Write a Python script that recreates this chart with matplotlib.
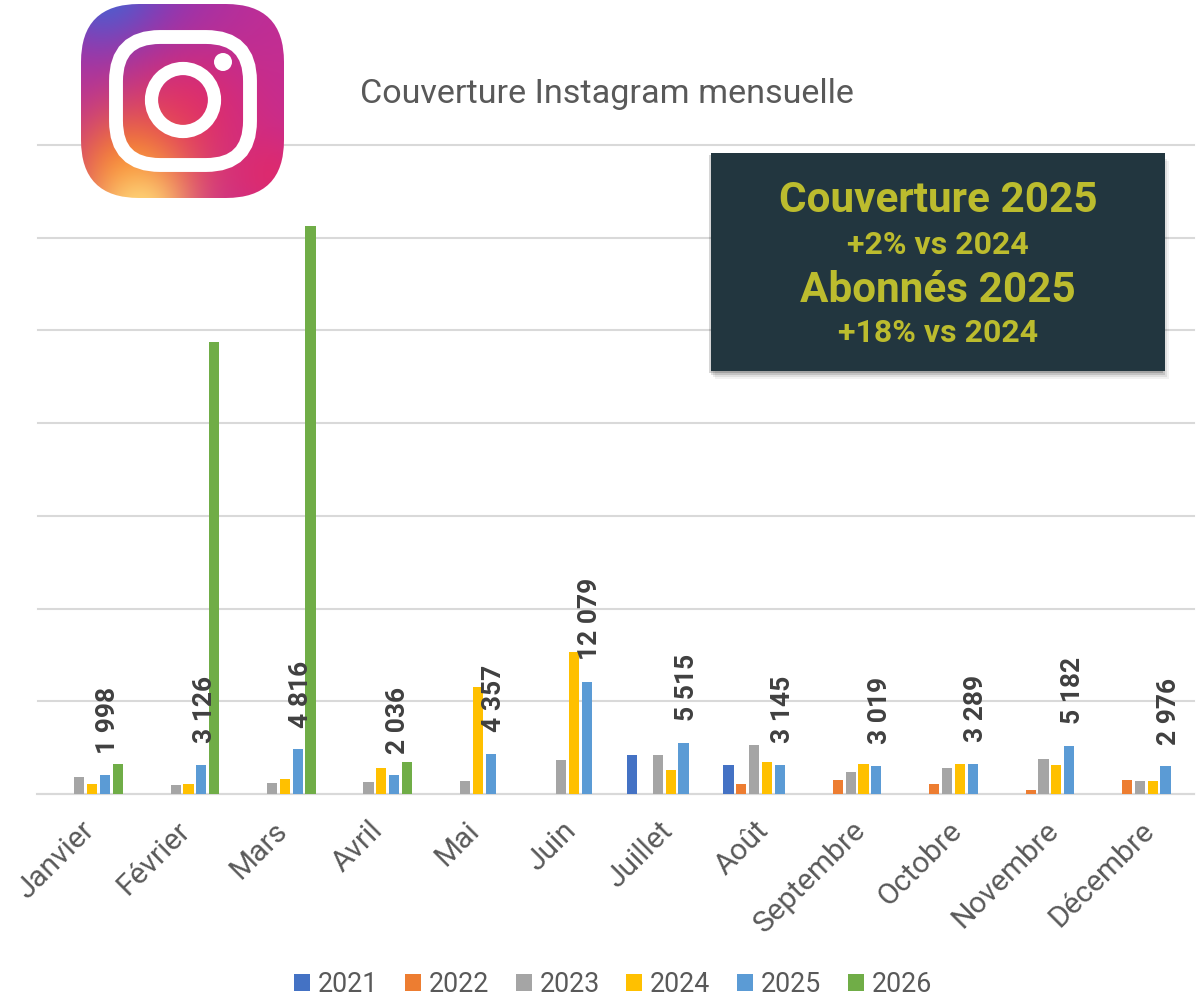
#!/usr/bin/env python3
# Couverture Instagram mensuelle: grouped bars per month, 2021-2026.
import numpy as np
import matplotlib
matplotlib.use('Agg')
import matplotlib.pyplot as plt
from matplotlib.patches import Rectangle, FancyBboxPatch, Circle
from matplotlib.transforms import ScaledTranslation

W, H = 1199, 997

MONTHS = ['Janvier', 'Février', 'Mars', 'Avril', 'Mai', 'Juin', 'Juillet',
          'Août', 'Septembre', 'Octobre', 'Novembre', 'Décembre']
YEARS = ['2021', '2022', '2023', '2024', '2025', '2026']
COLORS = ['#4472c4', '#ed7d31', '#a5a5a5', '#ffc000', '#5b9bd5', '#70ad47']

V2021 = [0, 0, 0, 20, 0, 0, 4210, 3130, 40, 30, 30, 0]
V2022 = [20, 0, 20, 30, 30, 30, 30, 1115, 1480, 1040, 430, 1550]
V2023 = [1800, 1010, 1220, 1260, 1400, 3670, 4210, 5250, 2340, 2840, 3780, 1400]
V2024 = [1115, 1115, 1580, 2800, 11500, 15300, 2630, 3420, 3200, 3280, 3130, 1400]
V2025 = [1998, 3126, 4816, 2036, 4357, 12079, 5515, 3145, 3019, 3289, 5182, 2976]
V2026 = [3240, 48800, 61300, 3450, 0, 0, 0, 0, 0, 0, 0, 0]
SERIES = [V2021, V2022, V2023, V2024, V2025, V2026]

LABELS = ['1 998', '3 126', '4 816', '2 036', '4 357', '12 079',
          '5 515', '3 145', '3 019', '3 289', '5 182', '2 976']

plt.rcParams['font.family'] = ['Roboto', 'DejaVu Sans']
GREY = '#595959'


def fx(px):
    return px / W


def fy(py):
    return 1 - py / H


fig = plt.figure(figsize=(W / 100, H / 100), dpi=100, facecolor='white')

# Main axes, placed in pixels: grid runs 37-1195, baseline at 794, top line at 145
ax = fig.add_axes([fx(37.5), fy(794), (1194.5 - 37.5) / W, (794 - 145) / H])
ax.set_xlim(-0.5, 11.5)
ax.set_ylim(0, 70000)

step = 0.133
width = 0.106
x = np.arange(len(MONTHS))
for i, (year, vals, col) in enumerate(zip(YEARS, SERIES, COLORS)):
    ax.bar(x + (i - 2.5) * step, vals, width=width, color=col, label=year, zorder=3)

for xi, val, lab in zip(x, V2025, LABELS):
    ax.annotate(lab, (xi + 1.5 * step, val), xytext=(2.5, 15.5), textcoords='offset points',
                rotation=90, ha='center', va='bottom', fontsize=19, fontweight='bold',
                color='#404040', zorder=5)

ax.set_yticks(np.arange(0, 70001, 10000))
ax.set_yticklabels([])
ax.yaxis.grid(True, color='#d9d9d9', linewidth=1.5, zorder=0, clip_on=False)
ax.set_axisbelow(True)
ax.tick_params(length=0)
for s in ['top', 'right', 'left']:
    ax.spines[s].set_visible(False)
ax.spines['bottom'].set_color('#d9d9d9')
ax.spines['bottom'].set_linewidth(1.5)

ax.set_xticks(x)
ax.set_xticklabels(MONTHS, rotation=45, ha='right', rotation_mode='anchor',
                   fontsize=21.5, color=GREY)
ax.tick_params(axis='x', pad=16)
# month labels sit a few pixels left of the group centre
shift = ScaledTranslation(-6 / 100, 0, fig.dpi_scale_trans)
for lab in ax.get_xticklabels():
    lab.set_transform(lab.get_transform() + shift)

fig.text(fx(360), fy(94), 'Couverture Instagram mensuelle', fontsize=24.6, color=GREY,
         ha='left', va='center')

leg = fig.legend(*ax.get_legend_handles_labels(), loc='center', ncol=6,
                 bbox_to_anchor=(fx(613), fy(984)), frameon=False, fontsize=19.3,
                 labelcolor=GREY, handlelength=0.6, handleheight=0.6,
                 handletextpad=0.28, columnspacing=1.0, borderpad=0)

# Text box with soft shadow
for k, a in zip([8, 6, 4, 2], [0.05, 0.08, 0.12, 0.16]):
    fig.add_artist(Rectangle((fx(711 + k - 4), fy(371 + k)), 454 / W, 218 / H,
                             transform=fig.transFigure, facecolor='black', alpha=a,
                             edgecolor='none', zorder=6))
fig.add_artist(Rectangle((fx(711), fy(371)), 454 / W, 218 / H, transform=fig.transFigure,
                         facecolor='#22363f', edgecolor='none', zorder=7))
BOX_TEXT = [('Couverture 2025', 201, 30.4), ('+2% vs 2024', 245, 23),
            ('Abonnés 2025', 290, 30.4), ('+18% vs 2024', 333, 23)]
for txt, py, size in BOX_TEXT:
    fig.text(fx(938), fy(py), txt, fontsize=size, fontweight='bold', color='#bcbc2e',
             ha='center', va='center', zorder=8)

# Instagram logo: gradient clipped to a rounded square, white glyph on top
lx0, lx1, ly0, ly1 = 81, 284, 4, 198
logo = fig.add_axes([fx(lx0), fy(ly1), (lx1 - lx0) / W, (ly1 - ly0) / H], zorder=9)
logo.set_xlim(lx0, lx1)
logo.set_ylim(ly1, ly0)
logo.axis('off')

gx, gy = np.meshgrid(np.linspace(lx0, lx1, 220), np.linspace(ly0, ly1, 220))


def blob(cx, cy, r):
    return np.exp(-((gx - cx) ** 2 + (gy - cy) ** 2) / (2 * r ** 2))[..., None]


img = np.ones(gx.shape + (3,)) * np.array(matplotlib.colors.to_rgb('#c52d92'))
for col, cx, cy, r in [('#8a35b8', 130, 0, 70), ('#4a5fd0', 105, -10, 36),
                       ('#dc2a70', 190, 115, 50), ('#dc2a70', 270, 175, 30),
                       ('#f5792a', 130, 170, 44), ('#ffd877', 140, 214, 34)]:
    m = blob(cx, cy, r)
    img = img * (1 - m) + np.array(matplotlib.colors.to_rgb(col)) * m

clip = FancyBboxPatch((lx0 + 50, ly0 + 50), lx1 - lx0 - 100, ly1 - ly0 - 100,
                      boxstyle='round,pad=50,rounding_size=58', facecolor='none',
                      edgecolor='none', transform=logo.transData)
logo.add_patch(clip)
im = logo.imshow(img, extent=(lx0, lx1, ly1, ly0), aspect='auto', interpolation='bilinear')
im.set_clip_path(clip)
logo.set_xlim(lx0, lx1)
logo.set_ylim(ly1, ly0)
logo.add_patch(FancyBboxPatch((146, 67), 74, 68, boxstyle='round,pad=30,rounding_size=44',
                              facecolor='none', edgecolor='white', linewidth=10))
logo.add_patch(Circle((183, 100), 31.5, facecolor='none', edgecolor='white', linewidth=9.5))
logo.add_patch(Circle((223, 62), 9, facecolor='white', edgecolor='none'))

fig.savefig('out.png', dpi=100)
plt.close(fig)
